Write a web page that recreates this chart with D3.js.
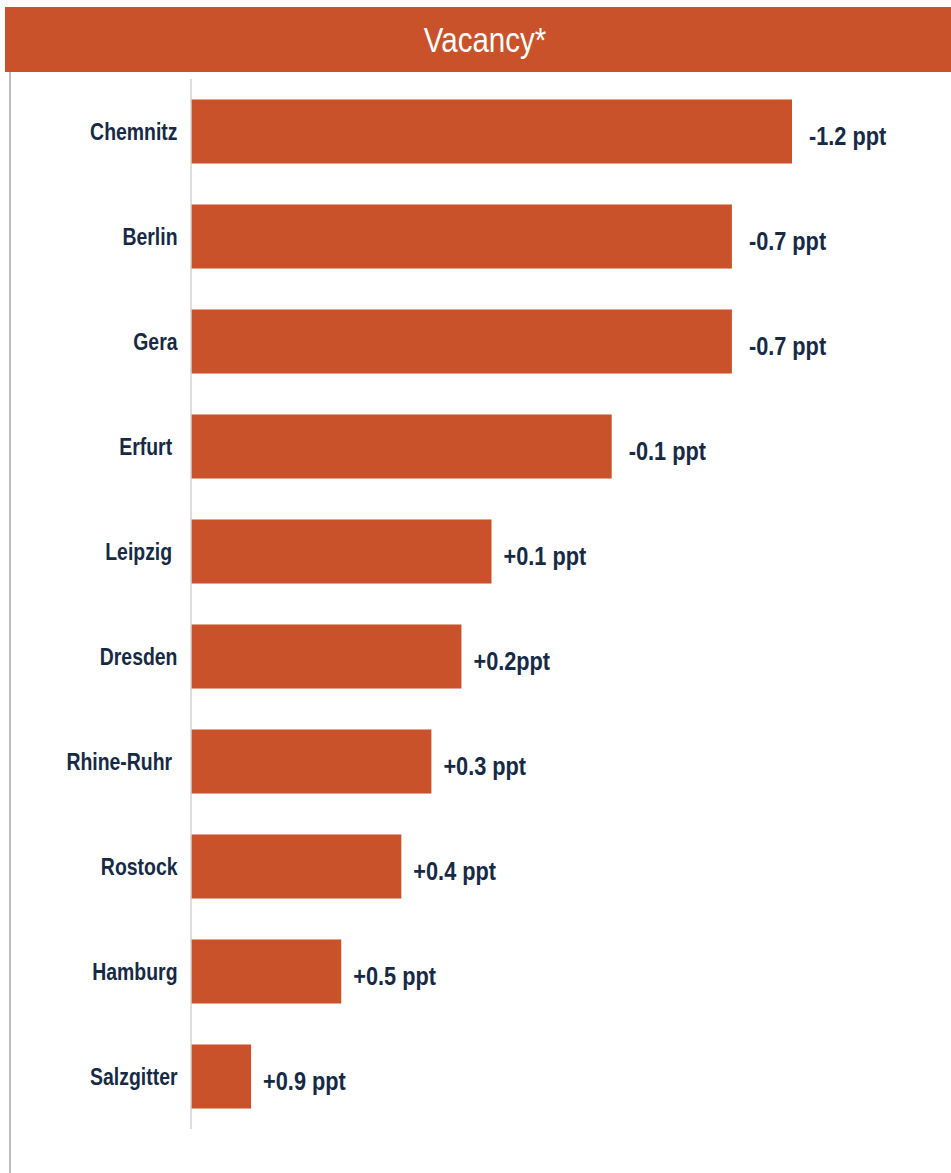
<!DOCTYPE html>
<html>
<head>
<meta charset="utf-8">
<script src="https://cdn.jsdelivr.net/npm/d3@7"></script>
<style>
  html, body { margin: 0; padding: 0; background: #fff; }
  svg { display: block; }
  text { font-family: "Liberation Sans", Arial, sans-serif; }
</style>
</head>
<body>
<svg id="chart" width="951" height="1173"></svg>
<script>
const title = "Vacancy*";
const categories = ["Chemnitz", "Berlin", "Gera", "Erfurt ", "Leipzig ", "Dresden", "Rhine-Ruhr ", "Rostock", "Hamburg", "Salzgitter"];
const values = [10, 9, 9, 7, 5, 4.5, 4, 3.5, 2.5, 1];
const valueLabels = ["-1.2 ppt", "-0.7 ppt", "-0.7 ppt", "-0.1 ppt", "+0.1 ppt", "+0.2ppt", "+0.3 ppt", "+0.4 ppt", "+0.5 ppt", "+0.9 ppt"];

const data = categories.map((c, i) => ({ cat: c, value: values[i], label: valueLabels[i] }));

const svg = d3.select("#chart");
const W = 951, H = 1173;
const orange = "#C9522A";
const navy = "#172A45";
const narrow = 0.82; // emulate a condensed typeface

// title banner
svg.append("rect").attr("x", 5).attr("y", 7).attr("width", W - 5).attr("height", 65).attr("fill", orange);
svg.append("text")
  .attr("transform", `translate(485,52) scale(${narrow},1)`)
  .attr("text-anchor", "middle").attr("fill", "#fff")
  .attr("font-size", 36).text(title);

// left frame line
svg.append("line").attr("x1", 10).attr("x2", 10).attr("y1", 72).attr("y2", H)
  .attr("stroke", "#bdbdbd").attr("stroke-width", 2);

const x = d3.scaleLinear().domain([0, 10]).range([191, 792]);
const y = d3.scaleBand().domain(categories).range([79, 1129]).paddingInner(0.39).paddingOuter(0.195);

// bars
svg.append("g").selectAll("rect").data(data).join("rect")
  .attr("x", x(0)).attr("y", d => y(d.cat))
  .attr("width", d => x(d.value) - x(0)).attr("height", y.bandwidth())
  .attr("fill", orange);

// axis line
svg.append("line").attr("x1", x(0)).attr("x2", x(0)).attr("y1", 79).attr("y2", 1129)
  .attr("stroke", "#d3d3d3").attr("stroke-width", 1.5);

// category labels
svg.append("g").selectAll("text").data(data).join("text")
  .attr("transform", d => `translate(177.5,${y(d.cat) + y.bandwidth() / 2 + 8.5}) scale(${narrow},1)`)
  .attr("text-anchor", "end").attr("fill", navy)
  .attr("font-size", 23.7).attr("font-weight", "bold")
  .style("white-space", "pre")
  .text(d => d.cat);

// value labels
svg.append("g").selectAll("text").data(data).join("text")
  .attr("transform", d => `translate(${x(d.value) + (d.label.startsWith("-") ? 17 : 12)},${y(d.cat) + y.bandwidth() / 2 + 13.5}) scale(${narrow},1)`)
  .attr("text-anchor", "start").attr("fill", navy)
  .attr("font-size", 26.5).attr("font-weight", "bold")
  .text(d => d.label);
</script>
</body>
</html>
